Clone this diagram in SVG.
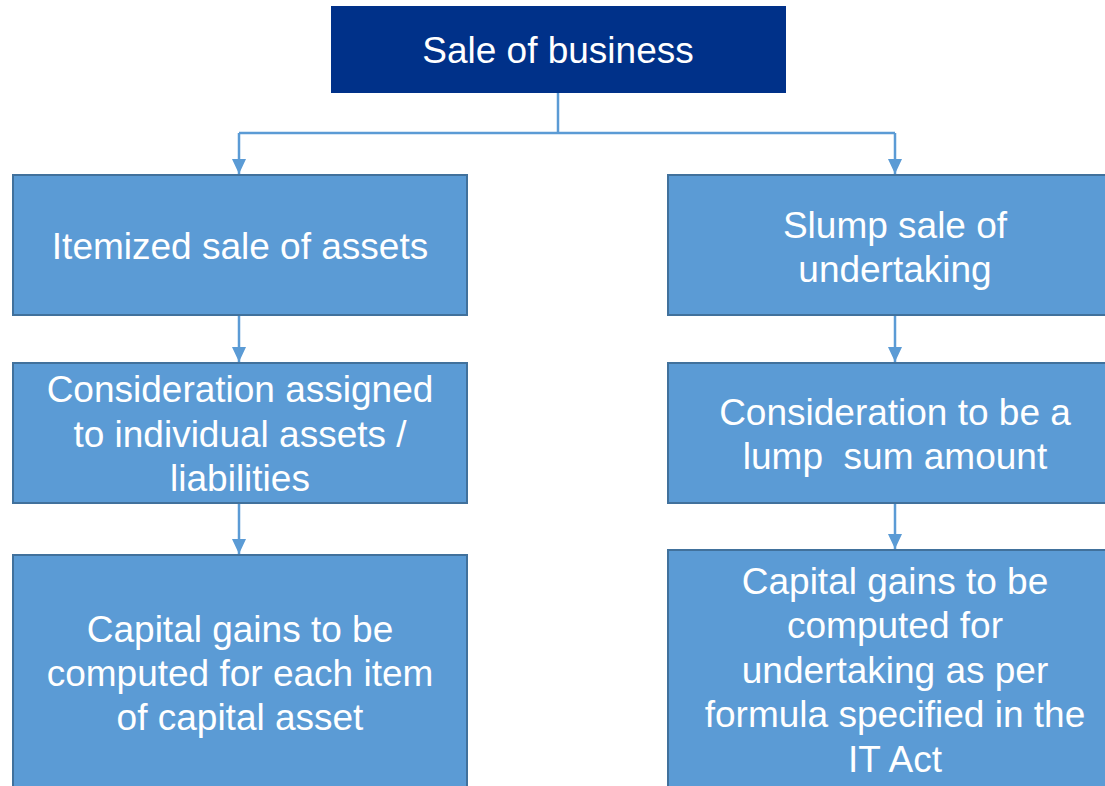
<svg xmlns="http://www.w3.org/2000/svg" width="1105" height="786" viewBox="0 0 1105 786">
<style>
.box{fill:#5B9BD5;stroke:#41719C;stroke-width:2}
.top{fill:#003189}
.t{font-family:"Liberation Sans",Arial,sans-serif;font-size:37px;fill:#ffffff;text-anchor:middle}
.c{fill:none;stroke:#5B9BD5;stroke-width:2.5}
</style>
<defs>
<marker id="ah" markerWidth="16" markerHeight="14" refX="15" refY="7" orient="auto" markerUnits="userSpaceOnUse">
<path d="M0,0 L15,7 L0,14 Z" fill="#5B9BD5"/>
</marker>
</defs>
<rect width="1105" height="786" fill="#ffffff"/>
<g id="connectors">
<path class="c" d="M558,93 V133 M239,133 H895"/>
<path class="c" d="M239,133 V174" marker-end="url(#ah)"/>
<path class="c" d="M895,133 V174" marker-end="url(#ah)"/>
<path class="c" d="M239,315 V362" marker-end="url(#ah)"/>
<path class="c" d="M895,315 V362" marker-end="url(#ah)"/>
<path class="c" d="M239,503 V554" marker-end="url(#ah)"/>
<path class="c" d="M895,503 V549" marker-end="url(#ah)"/>
</g>
<g id="n-sale">
<rect class="top" x="331" y="6" width="455" height="87"/>
<text class="t" x="558" y="63">Sale of business</text>
</g>
<g id="n-itemized">
<rect class="box" x="13" y="175" width="454" height="140"/>
<text class="t" x="240" y="259">Itemized sale of assets</text>
</g>
<g id="n-slump">
<rect class="box" x="668" y="175" width="454" height="140"/>
<text class="t" x="895" y="238">Slump sale of</text>
<text class="t" x="895" y="282">undertaking</text>
</g>
<g id="n-consid-left">
<rect class="box" x="13" y="363" width="454" height="140"/>
<text class="t" x="240" y="402">Consideration assigned</text>
<text class="t" x="240" y="447">to individual assets /</text>
<text class="t" x="240" y="491">liabilities</text>
</g>
<g id="n-consid-right">
<rect class="box" x="668" y="363" width="454" height="140"/>
<text class="t" x="895" y="425">Consideration to be a</text>
<text class="t" x="895" y="469" xml:space="preserve">lump  sum amount</text>
</g>
<g id="n-cg-left">
<rect class="box" x="13" y="555" width="454" height="250"/>
<text class="t" x="240" y="642">Capital gains to be</text>
<text class="t" x="240" y="686">computed for each item</text>
<text class="t" x="240" y="730">of capital asset</text>
</g>
<g id="n-cg-right">
<rect class="box" x="668" y="550" width="454" height="255"/>
<text class="t" x="895" y="594">Capital gains to be</text>
<text class="t" x="895" y="638">computed for</text>
<text class="t" x="895" y="683">undertaking as per</text>
<text class="t" x="895" y="727">formula specified in the</text>
<text class="t" x="895" y="772">IT Act</text>
</g>
</svg>
